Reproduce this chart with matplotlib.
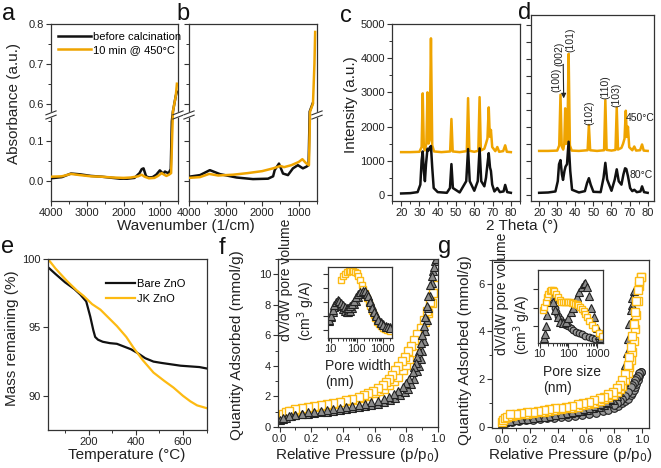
import numpy as np
import matplotlib
matplotlib.use('Agg')
import matplotlib.pyplot as plt
from matplotlib.ticker import FixedLocator, MultipleLocator, LogLocator, NullFormatter

plt.rcParams['font.family'] = ['Liberation Sans', 'DejaVu Sans']
plt.rcParams['font.size'] = 8
plt.rcParams['axes.linewidth'] = 0.9
plt.rcParams['axes.edgecolor'] = '#333333'
plt.rcParams['xtick.color'] = '#333333'
plt.rcParams['ytick.color'] = '#333333'
plt.rcParams['xtick.labelcolor'] = '#222222'
plt.rcParams['ytick.labelcolor'] = '#222222'

BLACK = '#111111'
ORANGE = '#EFA400'
YELLOW = '#FDBA12'

# ---- a: FTIR, ZnO bare
wn_a_before = [4000, 3700, 3450, 3200, 2900, 2600, 2300, 2100, 1900, 1700, 1560, 1500, 1450, 1380,
               1300, 1200, 1100, 1000, 950, 900, 860, 820, 760, 700, 670, 640, 600, 560, 530]
abs_a_before = [0.007, 0.01, 0.019, 0.017, 0.013, 0.011, 0.008, 0.006, 0.006, 0.008, 0.02, 0.03,
                0.032, 0.012, 0.009, 0.01, 0.016, 0.027, 0.022, 0.019, 0.024, 0.022, 0.02, 0.03,
                0.15, 0.58, 0.6, 0.62, 0.63]
wn_a_after = [4000, 3700, 3450, 3200, 2900, 2600, 2300, 2000, 1800, 1600, 1500, 1420, 1300, 1150,
              1050, 950, 880, 820, 750, 690, 665, 640, 600, 560, 530]
abs_a_after = [0.011, 0.012, 0.018, 0.015, 0.012, 0.011, 0.009, 0.008, 0.009, 0.012, 0.016, 0.011,
               0.007, 0.008, 0.013, 0.02, 0.016, 0.013, 0.016, 0.02, 0.1, 0.58, 0.6, 0.62, 0.65]

# ---- b: FTIR, JK ZnO
wn_b_before = [4000, 3700, 3430, 3155, 2700, 2250, 1840, 1700, 1657, 1540, 1430, 1294, 1158, 1022,
               886, 793, 730, 700, 660, 620]
abs_b_before = [0.011, 0.015, 0.0275, 0.0175, 0.009, 0.005, 0.006, 0.012, 0.0275, 0.044, 0.019,
                0.015, 0.032, 0.04, 0.032, 0.036, 0.04, 0.58, 0.59, 0.6]
wn_b_after = [4000, 3700, 3450, 3200, 2800, 2400, 2000, 1700, 1500, 1400, 1200, 1000, 900, 800,
              720, 690, 650, 610, 570, 550]
abs_b_after = [0.008, 0.01, 0.018, 0.014, 0.016, 0.02, 0.025, 0.032, 0.038, 0.035, 0.04, 0.048,
               0.055, 0.045, 0.04, 0.58, 0.59, 0.6, 0.7, 0.78]

# ---- c: XRD
tt_c_top = [20, 25, 30, 31.2, 31.8, 32.4, 33.0, 33.8, 34.4, 35.0, 35.6, 36.3, 37.0, 38, 42, 46.8,
            47.5, 48.2, 52, 55.9, 56.6, 57.3, 60, 62.2, 62.9, 63.6, 65.5, 66.4, 67.2, 67.9, 68.5,
            69.1, 69.8, 71.5, 72.6, 73.6, 75.8, 76.9, 77.8, 80]
int_c_top = [1250, 1250, 1260, 1400, 2970, 1400, 1300, 1500, 3000, 1500, 1600, 4580, 1450, 1270,
             1250, 1270, 2220, 1270, 1250, 1280, 2830, 1290, 1260, 1290, 2860, 1300, 1350, 1500,
             1650, 2560, 1700, 1900, 1400, 1280, 1400, 1260, 1280, 1450, 1260, 1250]
tt_c_bot = [20, 25, 29, 30.5, 31.2, 31.8, 32.4, 33.0, 33.6, 34.4, 35.0, 35.6, 36.3, 37.0, 37.8,
            40, 45, 46.7, 47.5, 48.3, 52, 55.6, 56.6, 57.5, 60, 61.9, 62.9, 63.8, 65.5, 66.4, 67.2,
            67.9, 68.6, 69.1, 69.8, 71, 72.6, 74, 76, 76.9, 78, 80]
int_c_bot = [40, 50, 80, 300, 1000, 1270, 700, 400, 900, 1350, 1300, 1380, 1430, 800, 200, 80,
             60, 200, 900, 200, 70, 400, 1340, 400, 120, 400, 1360, 400, 250, 500, 900, 1220, 800,
             700, 300, 100, 200, 80, 100, 290, 80, 60]

# ---- d: XRD, 450 C vs 80 C
tt_d_450 = [20, 25, 30, 31.1, 31.8, 32.5, 33.3, 33.9, 34.4, 35.0, 35.6, 36.3, 37.0, 38, 42, 46.8,
            47.5, 48.2, 52, 55.9, 56.6, 57.3, 60, 62.2, 62.9, 63.6, 65.5, 66.4, 67.2, 67.9, 68.5,
            69.1, 69.8, 71.5, 72.6, 73.6, 75.8, 76.9, 77.8, 80]
int_d_450 = [1290, 1290, 1300, 1450, 2940, 1420, 1330, 1500, 2540, 1500, 1600, 4140, 1450, 1300,
             1290, 1310, 2050, 1310, 1290, 1310, 2780, 1320, 1300, 1320, 2560, 1330, 1380, 1500,
             1650, 2470, 1700, 2000, 1400, 1310, 1420, 1300, 1310, 1480, 1300, 1290]
tt_d_80 = [20, 25, 29, 30.3, 31.0, 31.8, 32.6, 33.2, 34.0, 34.6, 35.4, 36.3, 37.2, 38.2, 42, 45.3,
           46.5, 47.5, 48.5, 50, 54, 55.6, 56.6, 57.6, 60, 61.8, 62.9, 64.0, 65.5, 66.6, 67.5,
           68.2, 69.1, 70.3, 71.5, 72.6, 74, 76, 76.9, 78, 80]
int_d_80 = [60, 70, 100, 400, 900, 1020, 600, 440, 700, 830, 900, 1560, 700, 150, 70, 110, 350,
            490, 300, 90, 80, 500, 940, 450, 120, 450, 750, 400, 300, 600, 780, 760, 550, 200, 110,
            150, 80, 100, 250, 80, 60]
d_labels = ['(100)', '(002)', '(101)', '(102)', '(110)', '(103)']
d_label_x = [29.8, 31.4, 37.1, 47.6, 56.8, 62.9]
d_label_y = [3390, 4150, 4550, 2420, 3150, 2950]

# ---- e: TGA
temp_bare = [28, 60, 100, 140, 165, 190, 207, 220, 228, 240, 260, 290, 320, 350, 380, 410, 440,
             475, 510, 550, 590, 630, 670, 700]
mass_bare = [99.4, 98.9, 98.3, 97.8, 97.4, 96.9, 95.8, 94.8, 94.3, 94.1, 93.95, 93.85, 93.8, 93.6,
             93.4, 93.1, 92.75, 92.5, 92.4, 92.3, 92.2, 92.15, 92.1, 92.0]
temp_jk = [28, 60, 108, 150, 179, 215, 250, 285, 320, 360, 391, 430, 475, 520, 560, 600, 631, 660, 700]
mass_jk = [100, 99.3, 98.4, 97.7, 97.3, 96.7, 96.3, 95.7, 95.1, 94.3, 93.5, 92.6, 91.7, 91.1, 90.6,
           90.0, 89.6, 89.3, 89.1]

# ---- f: N2 isotherms
p_f_jk_ads = [0.0, 0.02, 0.04, 0.07, 0.1, 0.13, 0.16, 0.2, 0.24, 0.28, 0.32, 0.36, 0.4, 0.44, 0.48,
              0.52, 0.56, 0.6, 0.63, 0.66, 0.69, 0.72, 0.75, 0.78, 0.8, 0.82, 0.84, 0.86, 0.88, 0.9,
              0.92, 0.94, 0.96, 0.98, 0.99]
q_f_jk_ads = [0.75, 0.88, 0.95, 1.02, 1.08, 1.13, 1.18, 1.25, 1.32, 1.39, 1.46, 1.53, 1.61, 1.7, 1.8,
              1.91, 2.03, 2.2, 2.35, 2.52, 2.72, 2.98, 3.3, 3.7, 4.05, 4.45, 4.9, 5.35, 5.8, 6.3,
              6.85, 7.45, 8.1, 8.9, 9.3]
p_f_jk_des = [0.99, 0.97, 0.95, 0.93, 0.91, 0.89, 0.87, 0.85, 0.83, 0.81, 0.79, 0.77, 0.75, 0.73,
              0.71, 0.69, 0.67, 0.65, 0.62, 0.59, 0.56, 0.53, 0.5, 0.46, 0.42, 0.38, 0.34, 0.3, 0.26,
              0.22, 0.18, 0.14, 0.1, 0.06]
q_f_jk_des = [9.3, 8.8, 8.2, 7.6, 7.0, 6.5, 6.1, 5.7, 5.3, 4.95, 4.6, 4.3, 4.0, 3.7, 3.4, 3.15,
              2.95, 2.78, 2.55, 2.38, 2.22, 2.08, 1.97, 1.85, 1.75, 1.65, 1.57, 1.5, 1.43, 1.36,
              1.29, 1.22, 1.15, 1.05]
p_f_bare_ads = [0.0, 0.02, 0.04, 0.07, 0.1, 0.14, 0.18, 0.22, 0.26, 0.3, 0.34, 0.38, 0.42, 0.46,
                0.5, 0.54, 0.58, 0.62, 0.66, 0.7, 0.73, 0.76, 0.79, 0.81, 0.83, 0.85, 0.87, 0.88,
                0.89, 0.9, 0.91, 0.92, 0.93, 0.94, 0.95, 0.96, 0.97, 0.98]
q_f_bare_ads = [0.45, 0.55, 0.62, 0.7, 0.76, 0.82, 0.87, 0.92, 0.97, 1.01, 1.06, 1.11, 1.16, 1.22,
                1.28, 1.35, 1.43, 1.52, 1.63, 1.77, 1.9, 2.07, 2.3, 2.52, 2.8, 3.15, 3.65, 4.0, 4.45,
                5.0, 5.6, 6.3, 7.0, 7.8, 8.6, 9.4, 10.2, 10.9]
p_f_bare_des = [0.99, 0.975, 0.96, 0.95, 0.94, 0.93, 0.92, 0.91, 0.9, 0.89, 0.88, 0.87, 0.86, 0.85,
                0.84, 0.82, 0.8, 0.78, 0.75, 0.72, 0.69, 0.66, 0.62, 0.58, 0.54, 0.5, 0.46, 0.42,
                0.38, 0.34, 0.3, 0.26, 0.22, 0.18, 0.14, 0.1, 0.06, 0.02]
q_f_bare_des = [11.0, 10.5, 9.9, 9.3, 8.6, 7.9, 7.2, 6.6, 6.0, 5.5, 5.0, 4.6, 4.2, 3.9, 3.6, 3.15,
                2.85, 2.6, 2.35, 2.15, 1.98, 1.85, 1.72, 1.62, 1.53, 1.45, 1.38, 1.31, 1.25, 1.19,
                1.13, 1.07, 1.01, 0.95, 0.88, 0.8, 0.7, 0.6]
# f inset: pore size distribution
w_f_jk = [26, 30, 35, 42, 50, 58, 66, 75, 85, 100, 115, 135, 156, 180, 210, 245, 290, 330, 383,
          450, 530, 620, 720, 850, 1000, 1200, 1450, 1750, 2000]
dv_f_jk = [3.6, 3.85, 4.0, 4.12, 4.2, 4.22, 4.22, 4.2, 4.18, 4.1, 3.85, 3.55, 3.25, 2.95, 2.65,
           2.3, 1.95, 1.7, 1.4, 1.1, 0.85, 0.62, 0.45, 0.3, 0.18, 0.1, 0.05, 0.0, -0.02]
w_f_bare = [9, 10.5, 12, 14, 16.7, 19, 22, 26, 30, 36, 42, 47, 55, 65, 78, 95, 115, 140, 170, 210,
            250, 280, 330, 390, 460, 550, 690, 850, 1050, 1300, 1600, 1990]
dv_f_bare = [0.7, 0.95, 1.3, 1.65, 1.9, 2.0, 1.9, 1.7, 1.5, 1.35, 1.28, 1.3, 1.4, 1.6, 1.85, 2.1,
             2.35, 2.55, 2.68, 2.7, 2.6, 2.45, 2.1, 1.7, 1.4, 1.1, 0.8, 0.6, 0.45, 0.32, 0.25, 0.22]
dv_f_bare2 = [0.75, 1.05, 1.45, 1.8, 2.05, 2.15, 2.1, 1.95, 1.8, 1.65, 1.6, 1.62, 1.72, 1.9, 2.1,
              2.35, 2.55, 2.72, 2.8, 2.78, 2.62, 2.42, 2.0, 1.6, 1.28, 1.0, 0.72, 0.52, 0.38, 0.28,
              0.22, 0.2]

# ---- g: N2 isotherms
p_g_jk_ads = [0.0, 0.01, 0.02, 0.04, 0.07, 0.1, 0.14, 0.18, 0.22, 0.26, 0.3, 0.34, 0.38, 0.42, 0.46,
              0.5, 0.54, 0.58, 0.62, 0.66, 0.7, 0.73, 0.76, 0.79, 0.82, 0.84, 0.86, 0.88, 0.9, 0.91,
              0.92, 0.93, 0.94, 0.95, 0.96, 0.97, 0.98, 0.99]
q_g_jk_ads = [0.2, 0.3, 0.37, 0.42, 0.46, 0.49, 0.52, 0.55, 0.58, 0.61, 0.64, 0.67, 0.7, 0.73, 0.77,
              0.81, 0.85, 0.9, 0.95, 1.01, 1.08, 1.15, 1.23, 1.33, 1.46, 1.58, 1.73, 1.95, 2.25, 2.5,
              2.8, 3.15, 3.6, 4.1, 4.7, 5.3, 5.9, 6.3]
p_g_jk_des = [0.99, 0.98, 0.97, 0.96, 0.95, 0.94, 0.93, 0.92, 0.91, 0.9, 0.88, 0.86, 0.84, 0.82,
              0.79, 0.76, 0.73, 0.7, 0.66, 0.62, 0.58, 0.54, 0.5, 0.46, 0.42, 0.38, 0.34, 0.3, 0.26,
              0.22, 0.18, 0.14, 0.1, 0.06]
q_g_jk_des = [6.3, 6.1, 5.75, 5.3, 4.8, 4.3, 3.8, 3.35, 2.95, 2.6, 2.2, 1.95, 1.76, 1.62, 1.47,
              1.36, 1.27, 1.2, 1.12, 1.05, 0.99, 0.94, 0.89, 0.85, 0.81, 0.77, 0.73, 0.7, 0.67,
              0.64, 0.61, 0.58, 0.55, 0.52]
p_g_tri_ads = [0.0, 0.02, 0.05, 0.09, 0.13, 0.17, 0.21, 0.25, 0.29, 0.33, 0.37, 0.41, 0.45, 0.49,
               0.53, 0.57, 0.61, 0.65, 0.69, 0.73, 0.76, 0.79, 0.82, 0.84, 0.86, 0.87, 0.88, 0.89,
               0.9, 0.91, 0.92, 0.93, 0.94]
q_g_tri_ads = [0.15, 0.2, 0.24, 0.28, 0.31, 0.34, 0.37, 0.4, 0.43, 0.46, 0.49, 0.52, 0.55, 0.58,
               0.62, 0.66, 0.71, 0.77, 0.84, 0.93, 1.02, 1.14, 1.3, 1.45, 1.7, 1.9, 2.2, 2.6, 3.1,
               3.7, 4.4, 5.1, 5.7]
p_g_tri_des = [0.93, 0.92, 0.91, 0.9, 0.89, 0.88, 0.87, 0.85, 0.83, 0.8, 0.77, 0.74, 0.7, 0.66,
               0.62, 0.58, 0.54, 0.5, 0.46, 0.42, 0.38, 0.34, 0.3, 0.26, 0.22, 0.18, 0.14, 0.1, 0.06]
q_g_tri_des = [5.4, 4.9, 4.3, 3.7, 3.1, 2.6, 2.2, 1.75, 1.5, 1.3, 1.15, 1.05, 0.95, 0.87, 0.8,
               0.74, 0.68, 0.63, 0.58, 0.54, 0.5, 0.46, 0.43, 0.4, 0.37, 0.34, 0.31, 0.28, 0.25]
p_g_cir = [0.0, 0.03, 0.07, 0.12, 0.17, 0.22, 0.27, 0.32, 0.37, 0.42, 0.47, 0.52, 0.57, 0.62, 0.67,
           0.72, 0.76, 0.8, 0.83, 0.86, 0.88, 0.9, 0.92, 0.93, 0.94, 0.95, 0.96, 0.97, 0.98, 0.99]
q_g_cir = [0.12, 0.18, 0.22, 0.25, 0.28, 0.3, 0.32, 0.35, 0.37, 0.4, 0.43, 0.46, 0.5, 0.54, 0.59,
           0.65, 0.72, 0.8, 0.88, 0.98, 1.07, 1.18, 1.32, 1.42, 1.53, 1.65, 1.8, 1.97, 2.15, 2.3]
p_g_cir_des = [0.99, 0.98, 0.97, 0.96, 0.95, 0.94, 0.93, 0.92, 0.9, 0.88, 0.86, 0.84, 0.82, 0.8]
q_g_cir_des = [2.3, 2.25, 2.15, 2.05, 1.95, 1.85, 1.75, 1.65, 1.45, 1.3, 1.18, 1.08, 1.0, 0.93]
# g inset
w_g_jk = [12.5, 14, 16, 18, 20, 22, 24.6, 28, 32, 37, 43, 50, 56, 65, 75, 86, 97, 112, 130, 150,
          175, 200, 222, 260, 300, 340, 382, 450, 530, 660, 870, 1150, 1500]
dv_g_jk = [1.85, 2.05, 2.3, 2.55, 2.75, 2.9, 2.96, 2.95, 2.88, 2.75, 2.55, 2.4, 2.33, 2.32, 2.32,
           2.3, 2.3, 2.28, 2.26, 2.24, 2.2, 2.17, 2.12, 2.02, 1.92, 1.8, 1.68, 1.48, 1.3, 1.05, 0.88,
           0.65, 0.47]
w_g_tri = [14, 15, 16.3, 17.5, 19, 21, 24.6, 29, 35, 43, 52, 65, 80, 100, 125, 150, 170, 200, 240,
           290, 340, 382, 430, 500, 600, 760, 950, 1150, 1320]
dv_g_tri = [0.35, 0.6, 1.0, 1.6, 2.3, 2.7, 2.6, 2.3, 1.9, 1.5, 1.25, 1.18, 1.25, 1.45, 1.75, 2.0,
            2.25, 2.55, 2.85, 3.1, 3.25, 3.32, 3.1, 2.6, 2.0, 1.5, 0.9, 0.55, 0.38]
w_g_cir = [24.6, 28, 33, 38, 43, 50, 60, 72, 85, 97, 120, 150, 190, 240, 290, 380, 500, 650, 850,
           1150, 1500]
dv_g_cir = [2.6, 2.3, 2.0, 1.75, 1.53, 1.38, 1.25, 1.12, 1.05, 1.0, 0.9, 0.8, 0.7, 0.62, 0.56,
            0.48, 0.4, 0.35, 0.3, 0.29, 0.25]

W, H = 661, 468
fig = plt.figure(figsize=(W / 100, H / 100), dpi=100)


def box(l, t, r, b):
    return fig.add_axes([l / W, 1 - b / H, (r - l) / W, (b - t) / H])


def ftext(x, y, s, **kw):
    fig.text(x / W, 1 - y / H, s, **kw)


def style(ax):
    ax.tick_params(which='major', direction='out', length=3.5, width=0.8, labelsize=8, pad=1.5)
    ax.tick_params(which='minor', direction='out', length=2, width=0.7)


# broken y scale for the FTIR panels
LO, HI, DG = 0.165, 0.5725, 0.002


def fwd(y):
    y = np.asarray(y, float)
    return np.where(y <= LO, y, np.where(y >= HI, y - (HI - LO) + DG, LO + (y - LO) * DG / (HI - LO)))


def inv(y):
    y = np.asarray(y, float)
    return np.where(y <= LO, y, np.where(y >= LO + DG, y + (HI - LO) - DG, LO + (y - LO) * (HI - LO) / DG))


def ftir(ax, wn1, a1, wn2, a2, labels):
    ax.set_yscale('function', functions=(fwd, inv))
    ax.plot(wn1, a1, color=BLACK, lw=1.8, label='before calcination', zorder=4)
    ax.plot(wn2, a2, color=ORANGE, lw=1.8, label='10 min @ 450°C', zorder=4)
    ax.set_xlim(4000, 500)
    ax.set_ylim(-0.05, 0.8)
    ax.yaxis.set_major_locator(FixedLocator([0.0, 0.1, 0.6, 0.7, 0.8]))
    ax.yaxis.set_minor_locator(FixedLocator([0.05, 0.15, 0.65, 0.75]))
    ax.xaxis.set_major_locator(FixedLocator([4000, 3000, 2000, 1000]))
    ax.xaxis.set_minor_locator(FixedLocator([3500, 2500, 1500, 500]))
    ax.yaxis.set_major_formatter(plt.FuncFormatter(lambda v, p: '%.1f' % v))
    ax.yaxis.set_minor_formatter(NullFormatter())
    style(ax)
    if not labels:
        ax.tick_params(labelleft=False)
    yb = (LO + DG / 2 + 0.05) / (0.8 + 0.05 - (HI - LO) + DG)
    dx, s, g = 0.04, 0.011, 0.024
    for x0 in (0, 1):
        ax.fill([x0 - dx, x0 + dx, x0 + dx, x0 - dx],
                [yb - g / 2 - s, yb - g / 2 + s, yb + g / 2 + s, yb + g / 2 - s],
                color='white', transform=ax.transAxes, clip_on=False, zorder=3)
        for off in (-g / 2, g / 2):
            ax.plot([x0 - dx, x0 + dx], [yb + off - s, yb + off + s], color='#333333', lw=0.8,
                    transform=ax.transAxes, clip_on=False, zorder=5)


ax_a = box(51, 24, 178, 201)
ftir(ax_a, wn_a_before, abs_a_before, wn_a_after, abs_a_after, True)
ax_a.legend(loc='upper left', bbox_to_anchor=(-0.01, 1.0), frameon=False, fontsize=8,
            handlelength=3.0, handletextpad=0.2, labelspacing=0.3, borderaxespad=0.3)

ax_b = box(189, 24, 317, 201)
ftir(ax_b, wn_b_before, abs_b_before, wn_b_after, abs_b_after, False)

# XRD
ax_c = box(392, 24, 520, 201)
ax_c.plot(tt_c_top, int_c_top, color=ORANGE, lw=1.8)
ax_c.plot(tt_c_bot, int_c_bot, color=BLACK, lw=1.8)
ax_c.set_xlim(15, 85)
ax_c.set_ylim(-180, 5000)
ax_c.xaxis.set_major_locator(MultipleLocator(10))
ax_c.xaxis.set_minor_locator(MultipleLocator(5))
ax_c.yaxis.set_major_locator(MultipleLocator(1000))
ax_c.yaxis.set_minor_locator(MultipleLocator(500))
style(ax_c)

ax_d = box(531, 15, 654, 201)
ax_d.plot(tt_d_450, int_d_450, color=ORANGE, lw=1.8)
ax_d.plot(tt_d_80, int_d_80, color=BLACK, lw=1.8)
ax_d.set_xlim(15.5, 83.5)
ax_d.set_ylim(-180, 5280)
ax_d.xaxis.set_major_locator(MultipleLocator(10))
ax_d.xaxis.set_minor_locator(MultipleLocator(5))
ax_d.yaxis.set_major_locator(MultipleLocator(500))
style(ax_d)
ax_d.tick_params(labelleft=False)
for lab, x, y in zip(d_labels, d_label_x, d_label_y):
    ax_d.text(x, y, lab, rotation=90, ha='center', va='center', fontsize=7.5, color='#222222')
ax_d.annotate('', xy=(33.6, 2750), xytext=(33.3, 3900),
              arrowprops=dict(arrowstyle='-|>', color='#222222', lw=0.8, mutation_scale=7))
ax_d.text(75.6, 2250, '450°C', ha='center', va='center', fontsize=7.5, color='#222222')
ax_d.text(76.4, 590, '80°C', ha='center', va='center', fontsize=7.5, color='#222222')

# TGA
ax_e = box(48, 259, 207, 430)
ax_e.plot(temp_bare, mass_bare, color=BLACK, lw=1.6, label='Bare ZnO')
ax_e.plot(temp_jk, mass_jk, color=YELLOW, lw=1.6, label='JK ZnO')
ax_e.set_xlim(28, 702)
ax_e.set_ylim(87.5, 100)
ax_e.xaxis.set_major_locator(FixedLocator([200, 400, 600]))
ax_e.xaxis.set_minor_locator(FixedLocator([100, 300, 500, 700]))
ax_e.yaxis.set_major_locator(FixedLocator([90, 95, 100]))
style(ax_e)
ax_e.legend(loc='upper right', bbox_to_anchor=(0.93, 0.94), frameon=False, fontsize=8,
            handlelength=2.6, handletextpad=0.2, labelspacing=0.4)


def iso_axes(ax, major):
    ax.set_xlim(-0.01, 1.0)
    ax.xaxis.set_major_locator(MultipleLocator(0.2))
    ax.xaxis.set_minor_locator(MultipleLocator(0.1))
    ax.xaxis.set_major_formatter(plt.FuncFormatter(lambda v, p: '%.1f' % v))
    ax.yaxis.set_major_locator(MultipleLocator(major))
    ax.yaxis.set_minor_locator(MultipleLocator(major / 2))
    style(ax)


sq = dict(ls='none', marker='s', ms=5.5, mfc='white', mec=YELLOW, mew=1.0)
tri = dict(ls='none', marker='^', ms=6, mfc='#8c8c8c', mec='#222222', mew=0.8)
cir = dict(ls='none', marker='o', ms=5.5, mfc='#9a9a9a', mec='#222222', mew=0.8)

ax_f = box(278, 259, 438, 427)
ax_f.plot(p_f_jk_ads, q_f_jk_ads, **sq)
ax_f.plot(p_f_jk_des, q_f_jk_des, **sq)
ax_f.plot(p_f_bare_ads, q_f_bare_ads, **tri)
ax_f.plot(p_f_bare_des, q_f_bare_des, **tri)
ax_f.set_ylim(0, 11)
iso_axes(ax_f, 2)

ax_g = box(492, 260, 649, 428)
ax_g.plot(p_g_cir, q_g_cir, **cir)
ax_g.plot(p_g_cir_des, q_g_cir_des, **cir)
ax_g.plot(p_g_tri_ads, q_g_tri_ads, **tri)
ax_g.plot(p_g_tri_des, q_g_tri_des, **tri)
ax_g.plot(p_g_jk_ads, q_g_jk_ads, **sq)
ax_g.plot(p_g_jk_des, q_g_jk_des, **sq)
iso_axes(ax_g, 2)
ax_g.set_xlim(-0.07, 1.05)
ax_g.set_ylim(-0.05, 7)


def inset_style(ax, xlim, ylim, yt):
    ax.set_xscale('log')
    ax.set_xlim(*xlim)
    ax.set_ylim(*ylim)
    ax.set_xticks([10, 100, 1000])
    ax.set_xticklabels(['10', '100', '1000'])
    ax.xaxis.set_minor_locator(LogLocator(base=10, subs=np.arange(2, 10)))
    ax.xaxis.set_minor_formatter(NullFormatter())
    ax.set_yticks(yt)
    ax.tick_params(labelleft=False)
    style(ax)
    ax.tick_params(which='major', labelsize=8, pad=1)


sq_s = dict(sq, ms=4.8)
tri_s = dict(tri, ms=5.2)
cir_s = dict(cir, ms=4.8)

ax_fi = box(328, 267, 392, 337.5)
ax_fi.plot(w_f_jk, dv_f_jk, **sq_s)
ax_fi.plot(w_f_bare, dv_f_bare, **tri_s)
ax_fi.plot(w_f_bare, dv_f_bare2, **tri_s)
inset_style(ax_fi, (8, 2300), (-0.5, 4.5), [0, 1, 2, 3, 4])

ax_gi = box(538, 269.5, 603, 343)
ax_gi.plot(w_g_cir, dv_g_cir, **cir_s)
ax_gi.plot(w_g_tri, dv_g_tri, **tri_s)
ax_gi.plot(w_g_jk, dv_g_jk, **sq_s)
inset_style(ax_gi, (8.7, 1600), (0.1, 4.05), [1, 2, 3])

# axis titles
lab = dict(fontsize=11, color='#222222')
ftext(14, 103, 'Absorbance (a.u.)', rotation=90, ha='center', va='center', **lab)
ftext(186, 226, 'Wavenumber (1/cm)', ha='center', va='center', **lab)
ftext(351, 105, 'Intensity (a.u.)', rotation=90, ha='center', va='center', **lab)
ftext(522, 226, '2 Theta (°)', ha='center', va='center', **lab)
ftext(12, 338, 'Mass remaining (%)', rotation=90, ha='center', va='center', **lab)
ftext(127, 455, 'Temperature (°C)', ha='center', va='center', **lab)
ftext(237, 345, 'Quantity Adsorbed (mmol/g)', rotation=90, ha='center', va='center', **lab)
ftext(357, 455, 'Relative Pressure (p/p$_0$)', ha='center', va='center', **lab)
ftext(465, 350, 'Quantity Adsorbed (mmol/g)', rotation=90, ha='center', va='center', **lab)
ftext(570, 455, 'Relative Pressure (p/p$_0$)', ha='center', va='center', **lab)

ins = dict(fontsize=10, color='#222222', multialignment='left', linespacing=1.2)
ftext(298, 341, 'dV/dW pore volume\n(cm$^3$ g/A)', rotation=90, ha='center', va='bottom', **ins)
ftext(325, 359, 'Pore width\n(nm)', ha='left', va='top', **ins)
ftext(514, 355, 'dV/dW pore volume\n(cm$^3$ g/A)', rotation=90, ha='center', va='bottom', **ins)
ftext(543, 365, 'Pore size\n(nm)', ha='left', va='top', **ins)

# panel letters
for s, x, y in [('a', 9, 14), ('b', 183, 14), ('c', 346, 16), ('d', 525, 13),
                ('e', 8, 247), ('f', 222, 248), ('g', 445, 247)]:
    ftext(x, y, s, fontsize=17, ha='center', va='center', color='#111111')

plt.savefig('out.png', dpi=100)
